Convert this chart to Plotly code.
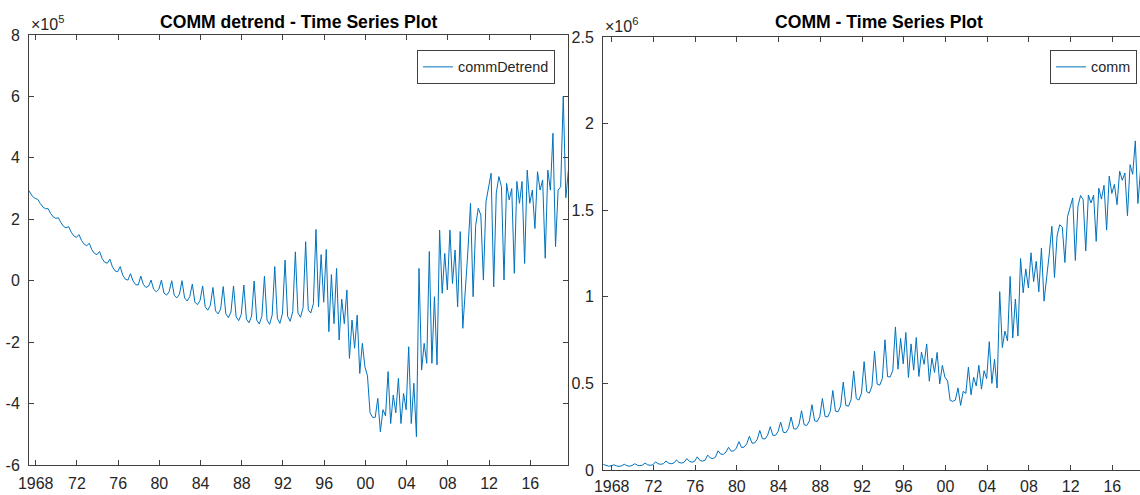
import plotly.graph_objects as go

# ---------------- data ----------------
years = list(range(1967, 2020))
# position of the four vertices within each year (fraction of year)
phase_peak, phase_low1, phase_mid, phase_low2 = 0.2, 0.45, 0.7, 0.95

# commDetrend, units of 1e5
det_peak = [3.00, 2.65, 2.35, 2.05, 1.76, 1.50, 1.22, 0.95, 0.70, 0.46,
            0.23, 0.15, 0.02, 0.02, 0.00, 0.00, -0.11, -0.17, -0.22, -0.19,
            -0.17, -0.14, -0.01, 0.15, 0.46, 0.67, 0.94, 1.27, 1.67, 1.02,
            0.40, -0.30, -1.12, -3.10, -3.83, -2.96, -3.18, -2.15, 0.40, 0.95,
            1.65, 1.65, 1.60, 2.52, 2.14, 3.50, 3.06, 3.00, 3.23, 2.95,
            3.28, 4.80, 6.00]
det_low1 = [2.85, 2.51, 2.19, 1.89, 1.58, 1.31, 1.01, 0.72, 0.45, 0.18,
            -0.01, -0.12, -0.28, -0.40, -0.48, -0.56, -0.70, -0.85, -0.98, -1.08,
            -1.18, -1.25, -1.28, -1.28, -1.22, -1.16, -1.05, -0.95, -0.85, -1.66,
            -1.93, -2.53, -3.02, -4.30, -4.92, -4.65, -4.65, -4.65, -2.91, -2.69,
            -0.41, -0.09, -1.55, -0.52, 0.02, -0.20, 0.02, 0.24, 0.56, 1.70,
            0.73, 1.11, 2.70]
det_mid = [2.74, 2.40, 2.08, 1.77, 1.46, 1.19, 0.89, 0.60, 0.32, 0.05,
           -0.13, -0.22, -0.36, -0.47, -0.56, -0.66, -0.78, -0.96, -1.08, -1.20,
           -1.30, -1.37, -1.41, -1.42, -1.39, -1.32, -1.19, -1.05, 0.85, 0.20,
           -0.60, -1.28, -2.04, -4.45, -4.20, -3.72, -3.67, -3.34, -2.04, -0.52,
           0.89, 1.00, -0.41, 1.80, 2.57, 2.85, 3.17, 3.23, 3.60, 3.55,
           3.60, 2.95, 3.60]
det_low2 = [2.68, 2.34, 2.03, 1.72, 1.41, 1.14, 0.85, 0.57, 0.29, 0.02,
            -0.14, -0.18, -0.28, -0.36, -0.44, -0.52, -0.64, -0.80, -0.92, -1.02,
            -1.10, -1.15, -1.16, -1.12, -1.06, -1.00, -0.88, -0.75, -0.70, -1.40,
            -1.40, -2.20, -2.80, -4.45, -4.40, -4.30, -4.20, -5.08, -2.69, -2.74,
            -0.30, -0.85, 1.00, 2.36, 3.00, 3.39, 2.63, 2.52, 2.52, 2.95,
            2.95, 3.06, 3.50]

# comm, units of 1e6
comm_peak = [0.032, 0.030, 0.033, 0.036, 0.040, 0.047, 0.052, 0.058, 0.066, 0.076,
             0.086, 0.111, 0.131, 0.164, 0.195, 0.228, 0.250, 0.277, 0.306, 0.342,
             0.377, 0.413, 0.459, 0.508, 0.572, 0.626, 0.686, 0.752, 0.826, 0.794,
             0.765, 0.728, 0.679, 0.514, 0.474, 0.594, 0.605, 0.741, 1.030, 1.118,
             1.221, 1.254, 1.282, 1.407, 1.402, 1.571, 1.560, 1.587, 1.644, 1.649,
             1.715, 1.900, 2.053]
comm_low1 = [0.025, 0.024, 0.025, 0.028, 0.030, 0.036, 0.040, 0.044, 0.050, 0.056,
             0.070, 0.092, 0.109, 0.130, 0.155, 0.181, 0.200, 0.218, 0.238, 0.261,
             0.284, 0.310, 0.340, 0.373, 0.412, 0.452, 0.496, 0.539, 0.582, 0.534,
             0.540, 0.513, 0.497, 0.402, 0.373, 0.434, 0.467, 0.500, 0.707, 0.762,
             1.023, 1.088, 0.975, 1.111, 1.198, 1.210, 1.265, 1.320, 1.385, 1.532,
             1.468, 1.539, 1.731]
comm_mid = [0.022, 0.021, 0.022, 0.025, 0.027, 0.033, 0.036, 0.040, 0.045, 0.051,
            0.066, 0.090, 0.110, 0.132, 0.156, 0.179, 0.200, 0.215, 0.236, 0.257,
            0.280, 0.306, 0.336, 0.368, 0.404, 0.444, 0.490, 0.537, 0.760, 0.728,
            0.681, 0.646, 0.604, 0.396, 0.454, 0.535, 0.573, 0.639, 0.802, 0.987,
            1.161, 1.205, 1.098, 1.352, 1.462, 1.523, 1.588, 1.627, 1.697, 1.725,
            1.763, 1.731, 1.830]
comm_low2 = [0.024, 0.024, 0.026, 0.028, 0.030, 0.036, 0.040, 0.045, 0.050, 0.056,
             0.074, 0.103, 0.126, 0.151, 0.176, 0.201, 0.222, 0.239, 0.260, 0.283,
             0.309, 0.337, 0.369, 0.406, 0.445, 0.484, 0.529, 0.575, 0.613, 0.576,
             0.610, 0.563, 0.536, 0.404, 0.442, 0.485, 0.528, 0.473, 0.745, 0.773,
             1.051, 1.029, 1.247, 1.416, 1.513, 1.585, 1.542, 1.564, 1.597, 1.673,
             1.707, 1.751, 1.828]

tick_years = [1968, 1972, 1976, 1980, 1984, 1988, 1992, 1996, 2000, 2004, 2008, 2012, 2016]
tick_text = ["1968", "72", "76", "80", "84", "88", "92", "96", "00", "04", "08", "12", "16"]
det_ticks = [-6, -4, -2, 0, 2, 4, 6, 8]
det_tick_text = ["-6", "-4", "-2", "0", "2", "4", "6", "8"]
comm_ticks = [0, 0.5, 1, 1.5, 2, 2.5]
comm_tick_text = ["0", "0.5", "1", "1.5", "2", "2.5"]

# ---------------- build series ----------------
phases = [phase_peak, phase_low1, phase_mid, phase_low2]
t, det, comm = [], [], []
for i, yr in enumerate(years):
    for ph, dv, cv in zip(phases,
                          [det_peak[i], det_low1[i], det_mid[i], det_low2[i]],
                          [comm_peak[i], comm_low1[i], comm_mid[i], comm_low2[i]]):
        t.append(yr + ph)
        det.append(dv)
        comm.append(cv)

W, H = 1140, 495
FONT = "Liberation Sans, Arial, Helvetica, sans-serif"
AX = "#404040"
TXT = "#262626"
BLUE = "#0072BD"

fig = go.Figure()
fig.add_trace(go.Scatter(x=t, y=det, mode="lines", name="commDetrend",
                         line=dict(color=BLUE, width=1), xaxis="x", yaxis="y",
                         legend="legend", showlegend=True))
fig.add_trace(go.Scatter(x=t, y=comm, mode="lines", name="comm",
                         line=dict(color=BLUE, width=1), xaxis="x2", yaxis="y2",
                         legend="legend2", showlegend=True))

common = dict(showline=True, linecolor=AX, linewidth=1, ticks="inside", ticklen=5,
              tickcolor=AX, showgrid=False, zeroline=False, automargin=False,
              tickfont=dict(family=FONT, size=16, color=TXT))

fig.update_layout(
    width=W, height=H, autosize=False, showlegend=True,
    margin=dict(l=0, r=0, t=0, b=0, pad=0, autoexpand=False),
    paper_bgcolor="white", plot_bgcolor="white",
    xaxis=dict(domain=[29 / W, 568 / W], range=[1967.35, 2019.66], anchor="y",
               tickvals=tick_years, ticktext=tick_text, mirror="ticks",
               ticklabelstandoff=4, **common),
    yaxis=dict(domain=[1 - 465 / H, 1 - 35 / H], range=[-6, 8], anchor="x",
               tickvals=det_ticks, ticktext=det_tick_text, mirror="ticks",
               ticklabelstandoff=5, **common),
    xaxis2=dict(domain=[603 / W, 1.0], range=[1967.166, 2018.65], anchor="y2",
                tickvals=tick_years, ticktext=tick_text, mirror="ticks",
                ticklabelstandoff=2, **common),
    yaxis2=dict(domain=[1 - 470 / H, 1 - 37 / H], range=[0, 2.5], anchor="x2",
                tickvals=comm_ticks, ticktext=comm_tick_text, mirror=False,
                ticklabelstandoff=5, **common),
    legend=dict(x=555 / W, y=1 - 50 / H, xanchor="right", yanchor="top",
                xref="paper", yref="paper", visible=True,
                bgcolor="white", bordercolor=AX, borderwidth=1,
                font=dict(family=FONT, size=14.4, color=TXT)),
    legend2=dict(x=1137 / W, y=1 - 50 / H, xanchor="right", yanchor="top",
                 xref="paper", yref="paper", visible=True,
                 bgcolor="white", bordercolor=AX, borderwidth=1,
                 font=dict(family=FONT, size=14.4, color=TXT)),
    annotations=[
        dict(text="<b>COMM detrend - Time Series Plot</b>", x=298.5 / W, y=1 - 22 / H,
             xref="paper", yref="paper", xanchor="center", yanchor="middle",
             showarrow=False, font=dict(family=FONT, size=17.6, color="black")),
        dict(text="<b>COMM - Time Series Plot</b>", x=879 / W, y=1 - 22 / H,
             xref="paper", yref="paper", xanchor="center", yanchor="middle",
             showarrow=False, font=dict(family=FONT, size=17.6, color="black")),
        dict(text="×10<sup>5</sup>", x=29 / W, y=1 - 35 / H, xref="paper", yref="paper",
             xanchor="left", yanchor="bottom", showarrow=False,
             font=dict(family=FONT, size=16, color=TXT)),
        dict(text="×10<sup>6</sup>", x=603 / W, y=1 - 37 / H, xref="paper", yref="paper",
             xanchor="left", yanchor="bottom", showarrow=False,
             font=dict(family=FONT, size=16, color=TXT)),
    ],
)

fig.write_html("out.html", config={"displayModeBar": False},
               post_script="document.body.style.margin='0';document.body.style.padding='0';")
